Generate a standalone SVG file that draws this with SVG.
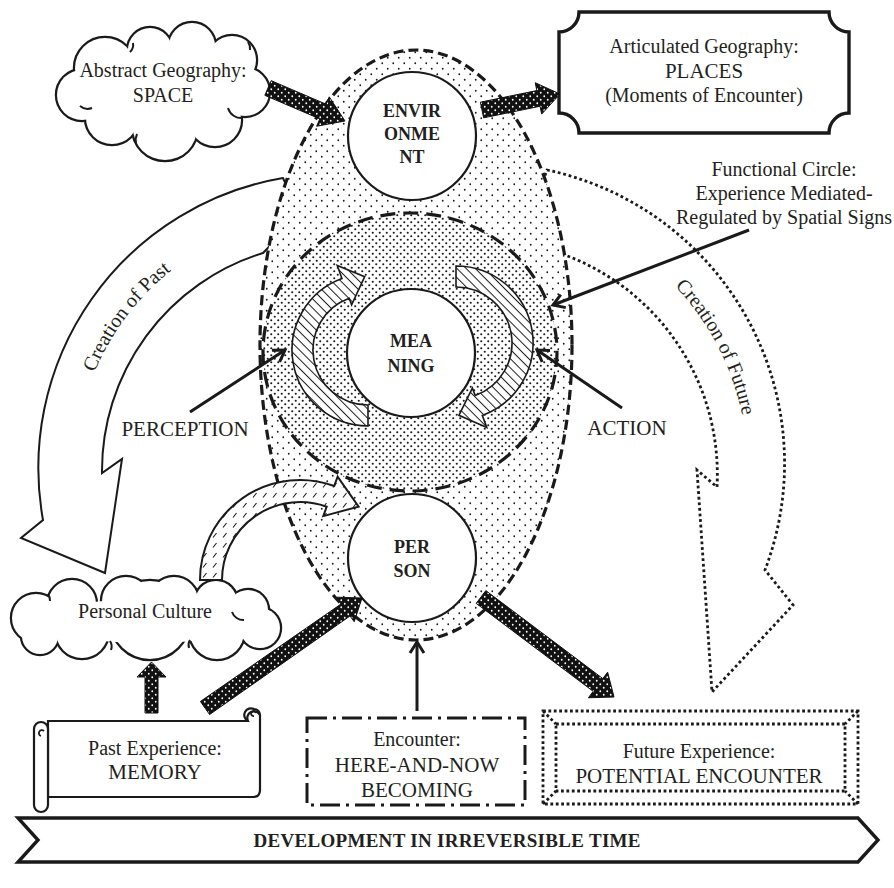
<svg xmlns="http://www.w3.org/2000/svg" xmlns:xlink="http://www.w3.org/1999/xlink" width="894" height="888" viewBox="0 0 894 888">
  <style>
    .t { font-family: "Liberation Serif", "Times New Roman", serif; font-size: 20px; fill: #231f20; text-anchor: middle; }
    .caps { font-size: 21px; }
    .node-t { font-weight: bold; font-size: 18px; }
    .band-t { font-weight: bold; font-size: 19px; }
    .ink { stroke: #1a1a1a; fill: none; }
    .thin-arrow { stroke: #1a1a1a; stroke-width: 3; fill: none; marker-end: url(#openHead); }
    .block { fill: url(#blackDots); stroke: #111; stroke-width: 1; }
    .cloud-edge { fill: #fff; stroke: #1a1a1a; stroke-width: 4.4; }
    .cloud-fill { fill: #fff; stroke: none; }
    .node-circle { fill: #fff; stroke: #1a1a1a; stroke-width: 2.2; }
  </style>
  <defs>
    <!-- sparse dot screen of the outer egg -->
    <pattern id="dotsSparse" width="11" height="11" patternUnits="userSpaceOnUse">
      <rect width="11" height="11" fill="#fff"/>
      <circle cx="2.75" cy="2.75" r="0.9" fill="#1a1a1a"/>
      <circle cx="8.25" cy="8.25" r="0.9" fill="#1a1a1a"/>
    </pattern>
    <!-- denser dot screen of the functional circle -->
    <pattern id="dotsDense" width="7" height="7" patternUnits="userSpaceOnUse">
      <rect width="7" height="7" fill="#fff"/>
      <circle cx="1.75" cy="1.75" r="1.05" fill="#1a1a1a"/>
      <circle cx="5.25" cy="5.25" r="1.05" fill="#1a1a1a"/>
    </pattern>
    <!-- black fill with white dots for the block arrows -->
    <pattern id="blackDots" width="7" height="7" patternUnits="userSpaceOnUse">
      <rect width="7" height="7" fill="#111"/>
      <circle cx="1.75" cy="1.75" r="0.9" fill="#fff"/>
      <circle cx="5.25" cy="5.25" r="0.9" fill="#fff"/>
    </pattern>
    <!-- diagonal hatching of the cycle arrows -->
    <pattern id="hatch" width="6.5" height="6.5" patternUnits="userSpaceOnUse" patternTransform="rotate(45)">
      <rect width="6.5" height="6.5" fill="#fff"/>
      <line x1="0" y1="3.25" x2="6.5" y2="3.25" stroke="#1a1a1a" stroke-width="1"/>
    </pattern>
    <!-- short slanted dashes of the culture arrow -->
    <pattern id="dashHatch" width="10" height="10" patternUnits="userSpaceOnUse">
      <rect width="10" height="10" fill="#fff"/>
      <line x1="3" y1="7.5" x2="6.5" y2="3" stroke="#1a1a1a" stroke-width="1.1"/>
    </pattern>
    <marker id="openHead" markerWidth="20" markerHeight="20" refX="15" refY="10" orient="auto" markerUnits="userSpaceOnUse">
      <path d="M4,3 L15,10 L4,17" fill="none" stroke="#1a1a1a" stroke-width="3"/>
    </marker>
    <g id="cloudA">
      <circle cx="105" cy="68" r="30"/>
      <circle cx="150" cy="50" r="22"/>
      <circle cx="192" cy="46" r="23"/>
      <circle cx="232" cy="60" r="24"/>
      <circle cx="245" cy="92" r="24"/>
      <circle cx="215" cy="120" r="26"/>
      <circle cx="165" cy="128" r="32"/>
      <circle cx="112" cy="118" r="26"/>
      <circle cx="82" cy="95" r="25"/>
    </g>
    <g id="cloudB">
      <circle cx="36" cy="618" r="24"/>
      <circle cx="72" cy="604" r="24"/>
      <circle cx="126" cy="601" r="24"/>
      <circle cx="174" cy="601" r="24"/>
      <circle cx="216" cy="602" r="21"/>
      <circle cx="248" cy="610" r="20"/>
      <circle cx="260" cy="628" r="20"/>
      <circle cx="40" cy="636" r="18"/>
      <circle cx="82" cy="632" r="26"/>
      <circle cx="150" cy="620" r="39"/>
      <circle cx="217" cy="632" r="27"/>
    </g>
    <path id="pastTextArc" d="M76.9,438.9 A255,255 0 0 1 230.4,235.3"/>
    <path id="futureTextArc" d="M622,242.7 A268,268 0 0 1 747.6,484"/>
  </defs>

  <rect width="894" height="888" fill="#fff"/>

  <!-- time arrows behind the egg -->
  <g id="creation-of-past">
    <path d="M283,178 A294,294 0 0 0 43,520 L21,538 L105,573 L122,459 L102,473 A228,228 0 0 1 263,253 L300,215 Z" fill="#fff" stroke="#1a1a1a" stroke-width="2"/>
    <text class="t" font-size="19"><textPath href="#pastTextArc" startOffset="50%">Creation of Past</textPath></text>
  </g>
  <g id="creation-of-future">
    <path d="M547,170 A300,300 0 0 1 765,570 L793,605 L712,692 L697,470 L717,487 A234,234 0 0 0 565,255 L530,215 Z" fill="#fff" stroke="#1a1a1a" stroke-width="2.8" stroke-dasharray="2.8 2.8"/>
    <text class="t" font-size="19"><textPath href="#futureTextArc" startOffset="50%">Creation of Future</textPath></text>
  </g>

  <!-- outer egg and functional circle -->
  <g id="experience-field">
    <ellipse cx="416" cy="345" rx="156" ry="295" fill="url(#dotsSparse)" stroke="#1a1a1a" stroke-width="3.2" stroke-dasharray="10 5"/>
  </g>
  <g id="functional-circle">
    <ellipse cx="410" cy="352" rx="147" ry="139" fill="url(#dotsDense)" stroke="#1a1a1a" stroke-width="3.2" stroke-dasharray="15 8"/>
  </g>

  <!-- nodes -->
  <g id="environment">
    <circle class="node-circle" cx="412" cy="136" r="64"/>
    <text class="t node-t" x="412" y="117">ENVIR</text>
    <text class="t node-t" x="412" y="140">ONME</text>
    <text class="t node-t" x="412" y="163">NT</text>
  </g>
  <g id="meaning">
    <circle class="node-circle" cx="411" cy="353" r="64"/>
    <text class="t node-t" x="411" y="347">MEA</text>
    <text class="t node-t" x="411" y="372">NING</text>
  </g>
  <g id="person">
    <circle class="node-circle" cx="412" cy="558" r="64"/>
    <text class="t node-t" x="412" y="553">PER</text>
    <text class="t node-t" x="412" y="577">SON</text>
  </g>

  <!-- cycle of perception and action -->
  <g id="cycle-left">
    <path d="M368,426 A76,76 0 0 1 342,278.6 L337.2,265.4 L364.7,276.7 L351.6,304.9 L349.2,298.3 A55,55 0 0 0 368,405 Z" fill="url(#hatch)" stroke="#1a1a1a" stroke-width="1.6"/>
  </g>
  <g id="cycle-right">
    <path d="M456,266 A77,77 0 0 1 482.3,415.4 L486.8,427.6 L458.9,415.3 L472.4,388.1 L475.2,395.6 A56,56 0 0 0 456,287 Z" fill="url(#hatch)" stroke="#1a1a1a" stroke-width="1.6"/>
  </g>

  <!-- clouds -->
  <g id="abstract-geography">
    <use href="#cloudA" class="cloud-edge"/>
    <use href="#cloudA" class="cloud-fill"/>
    <ellipse cx="163" cy="90" rx="70" ry="38" fill="#fff"/>
    <path class="ink" stroke-width="2" d="M133,43 A10,10 0 0 1 130,52 M248,42 A12,12 0 0 1 250,50 M228,108 A14,14 0 0 0 243,118 M136,143 A14,14 0 0 1 137,134 M80,106 A12,12 0 0 0 92,108"/>
    <text class="t" x="163" y="77">Abstract Geography:</text>
    <text class="t" x="163" y="102">SPACE</text>
  </g>
  <g id="personal-culture">
    <use href="#cloudB" class="cloud-edge"/>
    <use href="#cloudB" class="cloud-fill"/>
    <ellipse cx="148" cy="621" rx="110" ry="22" fill="#fff"/>
    <path class="ink" stroke-width="2" d="M48,594 A10,10 0 0 1 50,601 M232,612 A12,12 0 0 0 244,620 M110,641 A10,10 0 0 1 111,650 M190,640 A10,10 0 0 0 189,648"/>
    <text class="t" x="145" y="618">Personal Culture</text>
  </g>

  <!-- culture feeding the person -->
  <g id="culture-arrow">
    <path d="M200,580 A100,100 0 0 1 334.2,486 L337.6,476.6 L358.6,506.6 L323.3,516.1 L326.7,506.7 A78,78 0 0 0 222,580 Z" fill="url(#dashHatch)" stroke="#1a1a1a" stroke-width="2"/>
  </g>

  <!-- boxes -->
  <g id="articulated-geography">
    <path d="M579,12 H829 A20,20 0 0 0 849,32 V113 A20,20 0 0 0 829,133 H579 A20,20 0 0 0 559,113 V32 A20,20 0 0 0 579,12 Z" fill="#fff" stroke="#1a1a1a" stroke-width="3.4"/>
    <text class="t" x="704" y="53">Articulated Geography:</text>
    <text class="t caps" x="704" y="78">PLACES</text>
    <text class="t" x="704" y="102">(Moments of Encounter)</text>
  </g>
  <g id="functional-circle-label">
    <text class="t" x="784" y="176">Functional Circle:</text>
    <text class="t" x="784" y="200">Experience Mediated-</text>
    <text class="t" x="784" y="224">Regulated by Spatial Signs</text>
  </g>
  <g id="past-experience">
    <path d="M48,721 H248 A6,6 0 0 1 260,715 V790 Q260,797 253,797 H48 Z" fill="#fff" stroke="#1a1a1a" stroke-width="2.2"/>
    <path d="M248,721 A6,6 0 0 1 254,709 A6,6 0 0 1 260,715" fill="none" stroke="#1a1a1a" stroke-width="2.2"/>
    <path d="M254,716 A2.5,2.5 0 1 1 256,713" fill="none" stroke="#1a1a1a" stroke-width="1.8"/>
    <path d="M34,729 A7,7 0 0 1 48,729 V805 A7,7 0 0 1 34,805 Z" fill="#fff" stroke="#1a1a1a" stroke-width="2.2"/>
    <path d="M41,736 A3,3 0 1 1 44,731" fill="none" stroke="#1a1a1a" stroke-width="1.8"/>
    <text class="t" x="155" y="755">Past Experience:</text>
    <text class="t caps" x="155" y="779">MEMORY</text>
  </g>
  <g id="encounter">
    <rect x="307" y="718" width="218" height="87" fill="#fff" stroke="#1a1a1a" stroke-width="3" stroke-dasharray="20 6 3 6"/>
    <text class="t" x="417" y="746">Encounter:</text>
    <text class="t caps" x="417" y="772">HERE-AND-NOW</text>
    <text class="t caps" x="417" y="797">BECOMING</text>
  </g>
  <g id="future-experience">
    <rect x="543" y="711" width="315" height="93" fill="#fff" stroke="#1a1a1a" stroke-width="2.8" stroke-dasharray="2.8 2.6"/>
    <rect x="556" y="724" width="289" height="67" fill="none" stroke="#1a1a1a" stroke-width="2.8" stroke-dasharray="2.8 2.6"/>
    <path d="M543,711 L556,724 M858,711 L845,724 M543,804 L556,791 M858,804 L845,791" stroke="#1a1a1a" stroke-width="2.8" stroke-dasharray="2.8 2.6"/>
    <text class="t" x="699" y="758">Future Experience:</text>
    <text class="t caps" x="699" y="783">POTENTIAL ENCOUNTER</text>
  </g>

  <!-- connectors -->
  <g id="connectors">
    <polygon class="block" points="264.85,95.35 319.79,118.89 316.64,126.24 345,121 329.24,96.84 326.09,104.19 271.15,80.65"/>
    <polygon class="block" points="483.61,117.84 540.05,106.26 541.66,114.10 560,94 535.22,82.74 536.83,90.58 480.39,102.16"/>
    <polygon class="block" points="145,713 145,677 137,677 151.5,662 166,677 158,677 158,713"/>
    <polygon class="block" points="209.59,714.55 350,616 354.23,621.77 362,598 337.01,597.19 341,604 200.41,701.45"/>
    <polygon class="block" points="476.19,603.39 593.21,691.37 588.40,697.76 614,697 607.64,672.20 602.83,678.59 485.81,590.61"/>
    <path class="thin-arrow" d="M190,412 L285,350"/>
    <path class="thin-arrow" d="M622,408 L537,350"/>
    <path class="thin-arrow" d="M749,230 L553,305"/>
    <path class="thin-arrow" d="M417,711 L417,642"/>
  </g>

  <g id="perception-label">
    <text class="t caps" x="185" y="436">PERCEPTION</text>
  </g>
  <g id="action-label">
    <text class="t caps" x="627" y="435">ACTION</text>
  </g>

  <!-- time banner -->
  <g id="irreversible-time">
    <polygon points="18,818 858,818 878,840 858,862 18,862 38,840" fill="#fff" stroke="#1a1a1a" stroke-width="3.4"/>
    <text class="t band-t" x="447" y="847" textLength="387" lengthAdjust="spacing">DEVELOPMENT IN IRREVERSIBLE TIME</text>
  </g>
</svg>
